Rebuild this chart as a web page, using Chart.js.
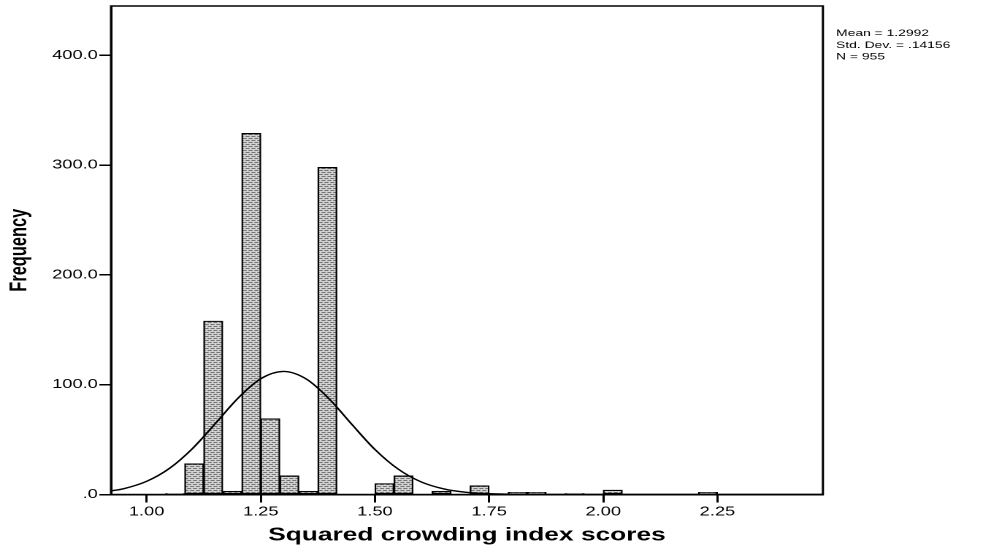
<!DOCTYPE html>
<html>
<head>
<meta charset="utf-8">
<title>Squared crowding index scores</title>
<script src="https://cdn.jsdelivr.net/npm/chart.js@4.4.1/dist/chart.umd.min.js"></script>
<style>
    html, body { margin: 0; padding: 0; background: #fff; overflow: hidden; }
    #wrap { width: 686px; height: 552px; transform: scaleX(1.4606); transform-origin: 0 0; }
</style>
</head>
<body>
<div id="wrap"><canvas id="histChart" width="686" height="552"></canvas></div>
<script>
// histogram bins (width 1/24), centre of each bin
const binMids = [
    1.0625, 1.1042, 1.1458, 1.1875, 1.2292, 1.2708, 1.3125, 1.3542, 1.3958, 1.4375,
    1.4792, 1.5208, 1.5625, 1.6042, 1.6458, 1.6875, 1.7292, 1.7708, 1.8125, 1.8542,
    1.8958, 1.9375, 1.9792, 2.0208, 2.0625, 2.1042, 2.1458, 2.1875, 2.2292
];
const frequencies = [
    1, 28, 158, 3, 329, 69, 17, 3, 298, 0,
    0, 10, 17, 0, 3, 0, 8, 0, 2, 2,
    0, 1, 0, 4, 0, 0, 0, 0, 2
];

// normal curve
const curveX = [0.92, 0.95, 1.00, 1.05, 1.10, 1.15, 1.20, 1.25, 1.30, 1.35, 1.40,
    1.45, 1.50, 1.55, 1.60, 1.65, 1.70, 1.75, 1.80, 1.90, 2.48];
const curveY = [3.1, 5.3, 12.0, 23.8, 41.7, 64.4, 87.7, 105.5, 112.1, 105.1, 87.0,
    63.6, 41.0, 23.4, 11.7, 5.2, 2.0, 0.7, 0.2, 0, 0];

const xTicks = [1.00, 1.25, 1.50, 1.75, 2.00, 2.25];
const yTicks = [0, 100, 200, 300, 400];
const statsLines = ["Mean = 1.2992", "Std. Dev. = .14156", "N = 955"];

Chart.defaults.font.family = "'Liberation Sans', Arial, sans-serif";
Chart.defaults.color = "#000";

// dotted fill like the SPSS bars
function makePattern() {
    const c = document.createElement("canvas");
    c.width = 4;
    c.height = 4;
    const g = c.getContext("2d");
    g.fillStyle = "#f2f2f2";
    g.fillRect(0, 0, 4, 4);
    g.fillStyle = "#4a4a4a";
    g.fillRect(0, 0, 3, 1);
    g.fillRect(2, 2, 2, 1);
    g.fillRect(0, 2, 1, 1);
    return g.createPattern(c, "repeat");
}

const framePlugin = {
    id: "frame",
    afterDraw(chart) {
        const { ctx, chartArea: a } = chart;
        ctx.save();
        ctx.strokeStyle = "#000";
        ctx.lineWidth = 1.5;
        ctx.strokeRect(a.left, a.top, a.right - a.left, a.bottom - a.top);
        ctx.fillStyle = "#000";
        ctx.font = "9.5px 'Liberation Sans', Arial, sans-serif";
        statsLines.forEach((t, i) => ctx.fillText(t, a.right + 9, 36 + i * 11.8));
        ctx.restore();
    }
};

const histChart = new Chart(
    document.getElementById("histChart"),
    {
        type: "bar",
        data: {
            datasets: [{
                type: "line",
                data: curveX.map((x, i) => ({ x: x, y: curveY[i] })),
                borderColor: "#000",
                borderWidth: 1.4,
                pointRadius: 0,
                fill: false,
                cubicInterpolationMode: "monotone"
            }, {
                type: "bar",
                data: binMids.map((x, i) => ({ x: x, y: frequencies[i] })),
                backgroundColor: makePattern(),
                borderColor: "#000",
                borderWidth: 1.2,
                borderSkipped: false,
                barPercentage: 1.0,
                categoryPercentage: 1.0
            }]
        },
        options: {
            responsive: false,
            animation: false,
            devicePixelRatio: 2,
            layout: { padding: { top: 6, right: 122.6, left: 0, bottom: 0 } },
            plugins: {
                legend: { display: false },
                tooltip: { enabled: false }
            },
            scales: {
                x: {
                    type: "linear",
                    min: 0.922,
                    max: 2.481,
                    offset: false,
                    afterBuildTicks: s => { s.ticks = xTicks.map(v => ({ value: v })); },
                    afterFit: s => { s.height = 57.5; },
                    grid: { offset: false, drawOnChartArea: false, drawTicks: true, tickLength: 8, color: "#000", lineWidth: 1.5 },
                    border: { display: true, color: "#000", width: 1.5 },
                    ticks: {
                        padding: 2,
                        maxRotation: 0,
                        autoSkip: false,
                        font: { size: 12.5 },
                        callback: v => v.toFixed(2)
                    },
                    title: {
                        display: true,
                        text: "Squared crowding index scores",
                        font: { size: 18, weight: "bold" },
                        padding: { top: 0, bottom: 5.7 }
                    }
                },
                y: {
                    min: 0,
                    max: 445,
                    afterBuildTicks: s => { s.ticks = yTicks.map(v => ({ value: v })); },
                    afterFit: s => { s.width = 76; s.paddingTop = 0; s.paddingBottom = 0; },
                    grid: { drawOnChartArea: false, drawTicks: true, tickLength: 8, color: "#000", lineWidth: 1.5 },
                    border: { display: true, color: "#000", width: 1.5 },
                    ticks: {
                        padding: 1,
                        font: { size: 12.5 },
                        callback: v => v === 0 ? ".0" : v.toFixed(1)
                    },
                    title: {
                        display: true,
                        text: "Frequency",
                        font: { size: 16.4, weight: "bold" },
                        padding: { top: 3.7, bottom: 0 }
                    }
                }
            }
        },
        plugins: [framePlugin]
    }
);
</script>
</body>
</html>
